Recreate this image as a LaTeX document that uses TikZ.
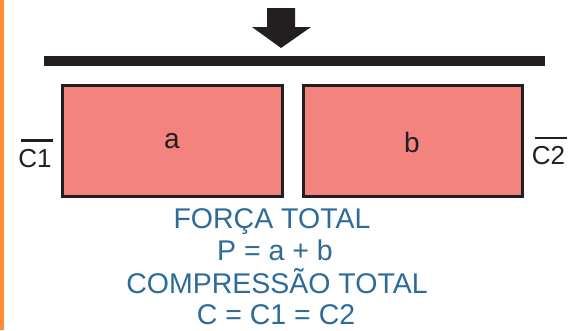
\documentclass[tikz,border=0pt]{standalone}
\usepackage{fontspec}
\setmainfont{Liberation Sans}
\definecolor{strip}{HTML}{FF8C33}
\definecolor{pinkfill}{HTML}{F2837F}
\definecolor{ink}{HTML}{231F20}
\definecolor{bluetxt}{HTML}{2D6C98}
\tikzset{
  block/.style={draw=ink, line width=3pt, fill=pinkfill},
  lbl/.style={inner sep=0pt, anchor=base, text=ink, font=\fontsize{28}{30}\selectfont},
  sidelbl/.style={inner sep=0pt, anchor=base, text=ink, font=\fontsize{26}{30}\selectfont},
  infotxt/.style={inner sep=0pt, anchor=base, text=bluetxt, font=\fontsize{28.5}{30}\selectfont},
  ovl/.style={draw=ink, line width=2.2pt}
}
\begin{document}
\begin{tikzpicture}[x=1pt, y=-1pt]
\useasboundingbox (0,0) rectangle (569,330);
% orange strip
\fill[strip] (0,0) rectangle (3.5,330);
% arrow
\fill[ink] (267,8) -- (295,8) -- (295,27) -- (311,27) -- (281,48) -- (252,27) -- (267,27) -- cycle;
% bar
\fill[ink] (44,56) rectangle (545,66);
% blocks
\draw[block] (62.5,85.5) rectangle (282.5,196.5);
\draw[block] (303.5,85.5) rectangle (522.5,196.5);
\node[lbl] (a) at (172,148) {a};
\node[lbl] (b) at (412,152) {b};
% side labels
\node[sidelbl] (c1) at (35,167) {C1};
\draw[ovl] (21,140.5) -- (53,140.5);
\node[sidelbl] (c2) at (548.5,164) {C2};
\draw[ovl] (535,138) -- (567,138);
% text
\node[infotxt] (t1) at (272,228) {FORÇA TOTAL};
\node[infotxt] (t2) at (275,260.5) {P = a + b};
\node[infotxt] (t3) at (277,293.5) {COMPRESSÃO TOTAL};
\node[infotxt] (t4) at (276,324.5) {C = C1 = C2};
\end{tikzpicture}
\end{document}
